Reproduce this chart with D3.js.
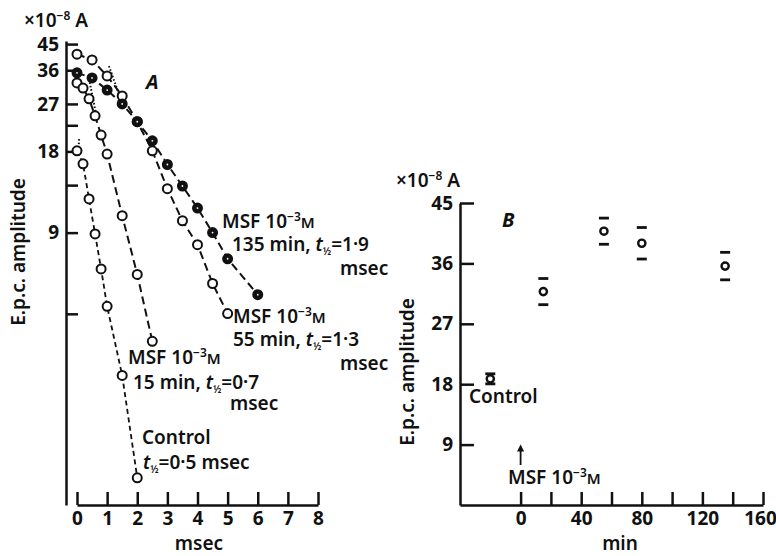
<!DOCTYPE html>
<html>
<head>
<meta charset="utf-8">
<script src="https://cdn.jsdelivr.net/npm/d3@7"></script>
<style>
  body { margin: 0; background: #fff; }
  svg { display: block; }
  text { font-family: "Noto Sans", "Open Sans", sans-serif; fill: #111; }
  .axis path, .axis line { stroke: #111; stroke-width: 2.5; }
  .axis text { font-size: 19px; font-weight: 700; font-family: "Open Sans", sans-serif; }
</style>
</head>
<body>
<div id="chart"></div>
<script>
// ---- Panel A: e.p.c. decay, log amplitude vs msec ----
const ctrlT = [0, 0.2, 0.4, 0.6, 0.8, 1.0, 1.5, 2.0];
const ctrlAmp = [18.1, 16.2, 12.0, 8.9, 6.6, 4.8, 2.66, 1.11];

const msf15T = [0, 0.2, 0.4, 0.6, 0.8, 1.0, 1.5, 2.0, 2.5];
const msf15Amp = [32.3, 30.9, 28.2, 24.4, 20.7, 17.6, 10.4, 6.3, 3.56];

const msf55T = [0, 0.5, 1.0, 1.5, 2.0, 2.5, 3.0, 3.5, 4.0, 4.5, 5.0];
const msf55Amp = [41.3, 39.3, 34.3, 28.9, 23.2, 18.1, 13.1, 9.96, 8.12, 5.83, 4.51];

const msf135T = [0, 0.5, 1.0, 1.5, 2.0, 2.5, 3.0, 3.5, 4.0, 4.5, 5.0, 6.0];
const msf135Amp = [35.2, 33.7, 30.4, 27.0, 23.2, 19.7, 16.1, 13.4, 11.1, 9.0, 7.2, 5.3];

// dotted back-extrapolations of the exponential tails
const ctrlExtrapT = [0.07, 0.05];
const ctrlExtrapAmp = [20.0, 18.4];
const msf15ExtrapT = [0.4, 0.63];
const msf15ExtrapAmp = [33.4, 24.8];
const msf55ExtrapT = [1.06, 1.39];
const msf55ExtrapAmp = [37.3, 29.4];

const yTicksA = [45, 36, 27, 22.5, 18, 13.5, 9, 4.5];
const yLabelsA = [45, 36, 27, 18, 9];
const xTicksA = [0, 1, 2, 3, 4, 5, 6, 7, 8];

// ---- Panel B: peak amplitude vs time after MSF ----
const minB = [-20, 15, 55, 80, 135];
const ampB = [18.8, 31.8, 40.8, 39.0, 35.6];
const errB = [0.6, 1.8, 1.8, 2.2, 1.9];

const yTicksB = [9, 18, 27, 36, 45];
const xTicksB = [0, 20, 40, 60, 80, 100, 120, 140, 160];
const xLabelsB = [0, 40, 80, 120, 160];

const W = 776, H = 556;

const svg = d3.select("#chart").append("svg")
  .attr("width", W)
  .attr("height", H);

svg.append("rect").attr("width", W).attr("height", H).attr("fill", "#fff");

// -------------------------------------------------------------
// Panel A
// -------------------------------------------------------------
const xA = d3.scaleLinear().domain([0, 8]).range([77, 318]);
const yA = d3.scaleLog().domain([0.88, 46.2]).range([505, 41]);

svg.append("g")
  .attr("class", "axis")
  .attr("transform", "translate(66,0)")
  .call(d3.axisLeft(yA)
    .tickValues(yTicksA)
    .tickSizeInner(-12)
    .tickSizeOuter(0)
    .tickPadding(7)
    .tickFormat(d => yLabelsA.includes(d) ? d : ""));

svg.append("g")
  .attr("class", "axis")
  .attr("transform", "translate(0,505)")
  .call(d3.axisBottom(xA)
    .tickValues(xTicksA)
    .tickSizeInner(-13)
    .tickSizeOuter(0)
    .tickPadding(7)
    .tickFormat(d3.format("d")));

const lineA = d3.line().x(d => xA(d[0])).y(d => yA(d[1]));

function zipPts(ts, vs) {
  return ts.map((t, i) => [t, vs[i]]);
}

const seriesA = [
  { t: ctrlT, v: ctrlAmp, filled: false, dash: "5,3.5", width: 1.8 },
  { t: msf15T, v: msf15Amp, filled: false, dash: "8,4.5", width: 2 },
  { t: msf55T, v: msf55Amp, filled: false, dash: "8,4.5", width: 2 },
  { t: msf135T, v: msf135Amp, filled: true, dash: "8,4.5", width: 2 }
];

const extrapA = [
  { t: ctrlExtrapT, v: ctrlExtrapAmp },
  { t: msf15ExtrapT, v: msf15ExtrapAmp },
  { t: msf55ExtrapT, v: msf55ExtrapAmp }
];

svg.append("g").selectAll("path")
  .data(extrapA)
  .join("path")
  .attr("d", d => lineA(zipPts(d.t, d.v)))
  .attr("fill", "none")
  .attr("stroke", "#111")
  .attr("stroke-width", 2)
  .attr("stroke-dasharray", "1.5,2");

svg.append("g").selectAll("path")
  .data(seriesA)
  .join("path")
  .attr("d", d => lineA(zipPts(d.t, d.v)))
  .attr("fill", "none")
  .attr("stroke", "#111")
  .attr("stroke-width", d => d.width)
  .attr("stroke-dasharray", d => d.dash);

seriesA.forEach(s => {
  const g = svg.append("g");
  const pts = zipPts(s.t, s.v);
  g.selectAll("circle")
    .data(pts)
    .join("circle")
    .attr("cx", d => xA(d[0]))
    .attr("cy", d => yA(d[1]))
    .attr("r", 4.5)
    .attr("fill", s.filled ? "#111" : "#fff")
    .attr("stroke", "#111")
    .attr("stroke-width", 2);
  if (s.filled) {
    g.selectAll("circle.dot")
      .data(pts)
      .join("circle")
      .attr("class", "dot")
      .attr("cx", d => xA(d[0]))
      .attr("cy", d => yA(d[1]))
      .attr("r", 0.9)
      .attr("fill", "#fff");
  }
});

// -------------------------------------------------------------
// Panel B
// -------------------------------------------------------------
const xB = d3.scaleLinear().domain([-40, 160]).range([460, 763]);
const yB = d3.scaleLinear().domain([0, 45]).range([505, 203]);

svg.append("g")
  .attr("class", "axis")
  .attr("transform", "translate(460,0)")
  .call(d3.axisLeft(yB)
    .tickValues(yTicksB)
    .tickSizeInner(-14)
    .tickSizeOuter(0)
    .tickPadding(7));

const xAxisB = svg.append("g")
  .attr("class", "axis")
  .attr("transform", "translate(0,505)")
  .call(d3.axisBottom(xB)
    .tickValues(xTicksB)
    .tickSizeInner(-13)
    .tickSizeOuter(0)
    .tickPadding(7)
    .tickFormat(d => xLabelsB.includes(d) ? d : ""));

// last label sits against the right edge
xAxisB.selectAll(".tick text").filter(d => d === 160).attr("dx", -3);

const ptsB = minB.map((m, i) => ({ m, a: ampB[i], e: errB[i] }));

const gB = svg.append("g");
// error bars: short horizontal dashes above and below
["hi", "lo"].forEach(side => {
  gB.selectAll("line." + side)
    .data(ptsB)
    .join("line")
    .attr("class", side)
    .attr("x1", d => xB(d.m) - 5)
    .attr("x2", d => xB(d.m) + 5)
    .attr("y1", d => yB(side === "hi" ? d.a + d.e : d.a - d.e) + (side === "hi" ? -1 : 1))
    .attr("y2", d => yB(side === "hi" ? d.a + d.e : d.a - d.e) + (side === "hi" ? -1 : 1))
    .attr("stroke", "#111")
    .attr("stroke-width", 2.8);
});
gB.selectAll("circle")
  .data(ptsB)
  .join("circle")
  .attr("cx", d => xB(d.m))
  .attr("cy", d => yB(d.a))
  .attr("r", 3.6)
  .attr("fill", "#fff")
  .attr("stroke", "#111")
  .attr("stroke-width", 2.4);

// arrow marking MSF application
svg.append("defs").append("marker")
  .attr("id", "arr")
  .attr("viewBox", "0 0 10 10")
  .attr("refX", 5).attr("refY", 5)
  .attr("markerWidth", 4).attr("markerHeight", 4)
  .attr("orient", "auto")
  .append("path")
  .attr("d", "M0,0L10,5L0,10z")
  .attr("fill", "#111");

svg.append("line")
  .attr("x1", xB(0)).attr("x2", xB(0))
  .attr("y1", 465).attr("y2", 448)
  .attr("stroke", "#111")
  .attr("stroke-width", 1.8)
  .attr("marker-end", "url(#arr)");

// -------------------------------------------------------------
// Text
// -------------------------------------------------------------
const FS = 19;

function plain(x, y, str, opts = {}) {
  return svg.append("text")
    .attr("x", x).attr("y", y)
    .attr("font-size", opts.size || FS)
    .attr("font-weight", opts.weight || 600)
    .attr("font-style", opts.italic ? "italic" : null)
    .attr("text-anchor", opts.anchor || "start")
    .text(str);
}

// "MSF 10^-3 M"
function msfLabel(x, y) {
  const t = svg.append("text").attr("x", x).attr("y", y)
    .attr("font-size", FS).attr("font-weight", 600);
  t.append("tspan").text("MSF 10");
  t.append("tspan").attr("dy", -7).attr("font-size", 12).text("−3");
  t.append("tspan").attr("dy", 7).attr("font-size", 15).text("M");
}

// "<pre> t½=<val>"
function halfLabel(x, y, pre, val) {
  const t = svg.append("text").attr("x", x).attr("y", y)
    .attr("font-size", FS).attr("font-weight", 600);
  if (pre) t.append("tspan").text(pre);
  t.append("tspan").attr("font-style", "italic").text("t");
  t.append("tspan").attr("dy", 4).attr("font-size", 10).text("½");
  t.append("tspan").attr("dy", -4).text("=" + val);
}

// unit labels
function unitLabel(x, y) {
  const t = svg.append("text").attr("x", x).attr("y", y)
    .attr("font-size", FS).attr("font-weight", 600);
  t.append("tspan").text("×10");
  t.append("tspan").attr("dy", -7).attr("font-size", 12).text("−8");
  t.append("tspan").attr("dy", 7).text(" A");
}
unitLabel(24, 27);
unitLabel(396, 187);

plain(146, 89, "A", { italic: true, weight: 700, size: 20 });
plain(502, 227, "B", { italic: true, weight: 700, size: 20 });

plain(0, 0, "E.p.c. amplitude", { anchor: "middle" })
  .attr("transform", "translate(25,252) rotate(-90)");
plain(0, 0, "E.p.c. amplitude", { anchor: "middle" })
  .attr("transform", "translate(414,372) rotate(-90)");

plain(199, 550, "msec", { anchor: "middle" });
plain(620, 550, "min", { anchor: "middle" });

// series annotations, panel A
msfLabel(222, 228);
halfLabel(232, 251, "135 min, ", "1·9");
plain(340, 275, "msec");

msfLabel(233, 323);
halfLabel(233, 346, "55 min, ", "1·3");
plain(340, 370, "msec");

msfLabel(128, 364);
halfLabel(133, 389, "15 min, ", "0·7");
plain(230, 410, "msec");

plain(142, 444, "Control");
halfLabel(143, 469, "", "0·5 msec");

// panel B annotations
plain(469, 403, "Control");
msfLabel(508, 484);
</script>
</body>
</html>
